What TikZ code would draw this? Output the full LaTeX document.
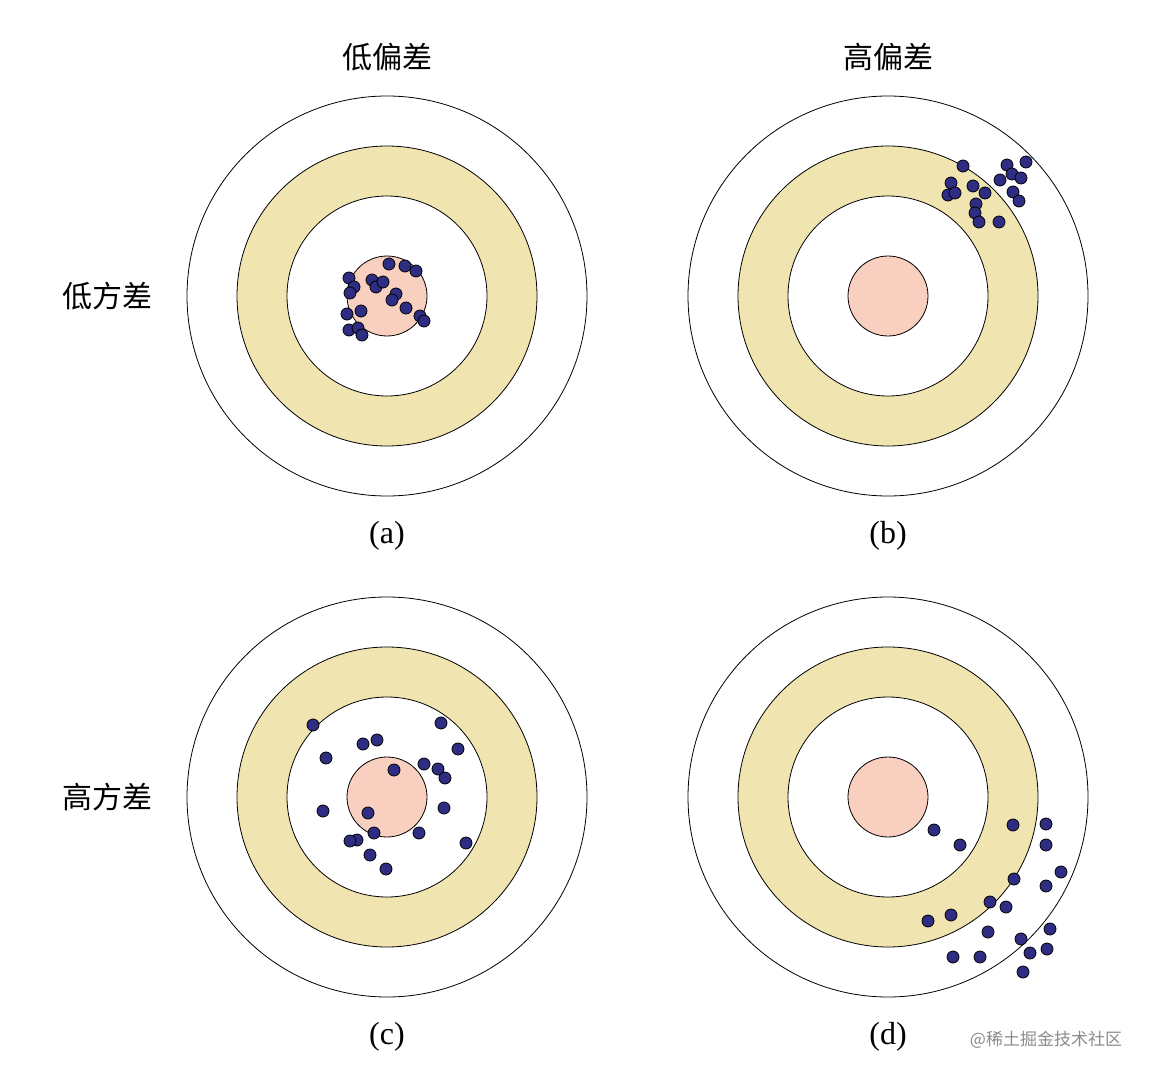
\documentclass[tikz,border=0pt]{standalone}
\usepackage{fontspec}
\setmainfont{Liberation Serif}
\newfontfamily\cjk{Noto Sans CJK SC}
\definecolor{ringY}{HTML}{F0E4B0}
\definecolor{bull}{HTML}{F9CFC0}
\definecolor{dotc}{HTML}{2E2D83}
\tikzset{x=1pt,y=-1pt,
 dotm/.style={circle,draw=black,fill=dotc,line width=0.8pt,inner sep=0pt,minimum size=12pt},
 ttl/.style={font=\cjk\fontsize{30}{30}\selectfont},
 subcap/.style={font=\fontsize{32}{32}\selectfont}}
\newcommand{\target}[2]{%
 \draw[line width=0.8pt,fill=white] (#1,#2) circle (200);
 \draw[line width=0.8pt,fill=ringY] (#1,#2) circle (150);
 \draw[line width=0.8pt,fill=white] (#1,#2) circle (100);
 \draw[line width=0.8pt,fill=bull] (#1,#2) circle (40);}
\newcommand{\shots}[1]{\foreach \p in {#1} \node[dotm] at \p {};}
\begin{document}
\begin{tikzpicture}
\useasboundingbox[fill=white] (0,0) rectangle (1154,1078);
\target{387}{296}\target{888}{296}\target{387}{797}\target{888}{797}
\shots{(349,278),(354,287),(350,293),(372,280),(376,287),(383,282),(389,264),(405,266),(416,271),(396,294),(392,300),(361,311),(347,314),(349,330),(358,328),(362,335),(406,308),(420,316),(424,321)}
\shots{(963,166),(1007,165),(1026,162),(1012,174),(1021,178),(1000,180),(951,183),(973,186),(985,193),(1013,192),(1019,201),(948,195),(955,193),(976,204),(975,213),(979,222),(999,222)}
\shots{(313,725),(441,723),(363,744),(377,740),(458,749),(326,758),(424,764),(438,769),(445,778),(394,770),(323,811),(368,813),(444,808),(374,833),(419,833),(357,840),(350,841),(466,843),(370,855),(386,869)}
\shots{(934,830),(960,845),(1013,825),(1046,824),(1046,845),(1061,872),(1014,879),(1046,886),(990,902),(1006,907),(928,921),(951,915),(988,932),(1021,939),(1050,929),(953,957),(980,957),(1030,953),(1047,949),(1023,972)}
\node[ttl] (t1) at (387,57) {低偏差};
\node[ttl] (t2) at (888,57) {高偏差};
\node[ttl] (r1) at (107,296) {低方差};
\node[ttl] (r2) at (107,797) {高方差};
\node[subcap] (ca) at (387,536) {(a)};
\node[subcap] (cb) at (888,536) {(b)};
\node[subcap] (cc) at (387,1037) {(c)};
\node[subcap] (cd) at (888,1037) {(d)};
\node[font=\cjk\fontsize{17}{17}\selectfont,text=black!45] (wm) at (1046,1040) {@稀土掘金技术社区};
\end{tikzpicture}
\end{document}
